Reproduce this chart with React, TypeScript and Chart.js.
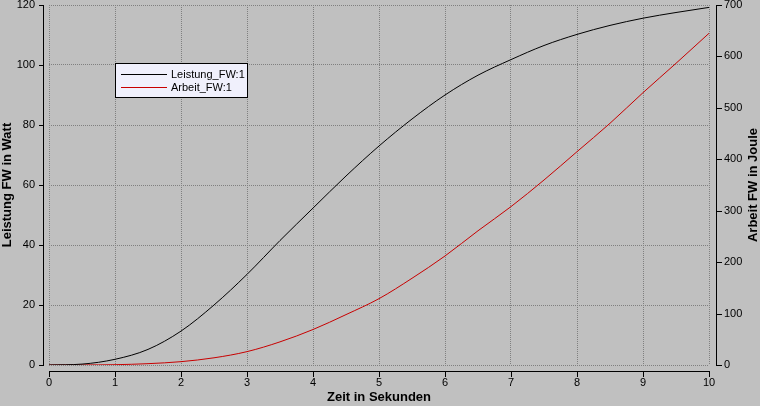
import React, { useEffect, useRef } from "react";
import { Chart, registerables } from "chart.js";

Chart.register(...registerables);

// ---- data ----
const timeSec = [0, 0.5, 1, 1.5, 2, 2.5, 3, 3.5, 4, 4.5, 5, 5.5, 6, 6.5, 7, 7.5, 8, 8.5, 9, 9.5, 10];
const leistungW = [0, 0.3, 1.9, 5.2, 11.3, 20, 30.2, 41.5, 52.3, 63, 73, 82, 90, 96.6, 101.8, 106.5, 110.2, 113.2, 115.6, 117.5, 119.2];
const arbeitJ = [0, 0.1, 0.6, 2.6, 6.5, 14, 26, 45, 69, 98, 129, 168.6, 212, 261, 308, 359.7, 414.8, 470, 529.5, 586.6, 645];

const seriesLabels = ["Leistung_FW:1", "Arbeit_FW:1"];
const seriesColors = ["#000000", "#c80000"];

const xTicksRange = [0, 10, 1];
const yLeftRange = [0, 120, 20];
const yRightRange = [0, 700, 100];

const xTitle = "Zeit in Sekunden";
const yLeftTitle = "Leistung FW in Watt";
const yRightTitle = "Arbeit FW in Joule";

const FONT = '"Liberation Sans", Arial, sans-serif';

const decorPlugin = {
  id: "decor",
  beforeDraw(chart: any) {
    const ctx = chart.ctx;
    ctx.save();
    ctx.fillStyle = "#c0c0c0";
    ctx.fillRect(0, 0, chart.width, chart.height);
    ctx.restore();
  },
  afterDraw(chart: any) {
    const { ctx, chartArea } = chart;
    const { left, right, top, bottom } = chartArea;
    const xs = chart.scales.x;
    const yl = chart.scales.y;
    const yr = chart.scales.y1;
    ctx.save();
    ctx.strokeStyle = "#000";
    ctx.lineWidth = 1;

    // left axis
    const lx = Math.round(left) - 6 + 0.5;
    ctx.beginPath();
    ctx.moveTo(lx, Math.round(top));
    ctx.lineTo(lx, Math.round(bottom) + 1);
    yl.ticks.forEach((t: any) => {
      const py = Math.round(yl.getPixelForValue(t.value)) + 0.5;
      ctx.moveTo(lx - 4.5, py);
      ctx.lineTo(lx + 0.5, py);
    });
    // right axis
    const rx = Math.round(right) + 7 + 0.5;
    ctx.moveTo(rx, Math.round(top));
    ctx.lineTo(rx, Math.round(bottom) + 1);
    yr.ticks.forEach((t: any) => {
      const py = Math.round(yr.getPixelForValue(t.value)) + 0.5;
      ctx.moveTo(rx - 0.5, py);
      ctx.lineTo(rx + 5.5, py);
    });
    // bottom axis
    const by = Math.round(bottom) + 6 + 0.5;
    ctx.moveTo(Math.round(left), by);
    ctx.lineTo(Math.round(right) + 1, by);
    xs.ticks.forEach((t: any) => {
      const px = Math.round(xs.getPixelForValue(t.value)) + 0.5;
      ctx.moveTo(px, by - 0.5);
      ctx.lineTo(px, by + 5.5);
    });
    ctx.stroke();

    // axis titles
    ctx.fillStyle = "#000";
    ctx.font = `bold 13px ${FONT}`;
    ctx.textAlign = "center";
    ctx.textBaseline = "middle";
    ctx.fillText(xTitle, (left + right) / 2, 397);
    const cy = (top + bottom) / 2;
    ctx.save();
    ctx.translate(7, cy);
    ctx.rotate(-Math.PI / 2);
    ctx.fillText(yLeftTitle, 0, 0);
    ctx.restore();
    ctx.save();
    ctx.translate(753, cy);
    ctx.rotate(-Math.PI / 2);
    ctx.fillText(yRightTitle, 0, 0);
    ctx.restore();

    // legend box
    const bx = 115.5, byy = 63.5, bw = 132, bh = 34;
    ctx.fillStyle = "#f0f0fc";
    ctx.fillRect(bx, byy, bw, bh);
    ctx.strokeStyle = "#000";
    ctx.strokeRect(bx, byy, bw, bh);
    ctx.font = `11px ${FONT}`;
    ctx.textAlign = "left";
    ctx.textBaseline = "middle";
    chart.data.datasets.forEach((ds: any, i: number) => {
      const ly = 74.5 + i * 13;
      ctx.strokeStyle = ds.borderColor;
      ctx.beginPath();
      ctx.moveTo(121, ly);
      ctx.lineTo(167, ly);
      ctx.stroke();
      ctx.fillStyle = "#000";
      ctx.fillText(ds.label, 171, ly);
    });
    ctx.restore();
  },
};

export default function App() {
  const ref = useRef<HTMLCanvasElement | null>(null);

  useEffect(() => {
    document.body.style.margin = "0";
    document.body.style.background = "#c0c0c0";
    const canvas = ref.current;
    if (!canvas) return;
    const tickFont = { family: FONT, size: 11 };
    const chart = new Chart(canvas, {
      type: "line",
      data: {
        datasets: [
          {
            label: seriesLabels[0],
            data: timeSec.map((t, i) => ({ x: t, y: leistungW[i] })),
            borderColor: seriesColors[0],
            borderWidth: 1,
            pointRadius: 0,
            cubicInterpolationMode: "monotone",
            yAxisID: "y",
          },
          {
            label: seriesLabels[1],
            data: timeSec.map((t, i) => ({ x: t, y: arbeitJ[i] })),
            borderColor: seriesColors[1],
            borderWidth: 1,
            pointRadius: 0,
            cubicInterpolationMode: "monotone",
            yAxisID: "y1",
          },
        ],
      },
      options: {
        animation: false,
        responsive: true,
        maintainAspectRatio: false,
        devicePixelRatio: 1,
        layout: { padding: { top: 5, left: 0, right: 0, bottom: 0 } },
        plugins: { legend: { display: false }, tooltip: { enabled: false } },
        scales: {
          x: {
            type: "linear",
            min: xTicksRange[0],
            max: xTicksRange[1],
            ticks: { stepSize: xTicksRange[2], color: "#000", font: tickFont, padding: 11, maxRotation: 0 },
            grid: { color: "#808080", drawTicks: false },
            border: { display: false, dash: [1, 1] },
            afterFit: (s: any) => {
              s.height = 41;
              s.paddingLeft = 0;
              s.paddingRight = 0;
            },
          },
          y: {
            type: "linear",
            position: "left",
            min: yLeftRange[0],
            max: yLeftRange[1],
            ticks: { stepSize: yLeftRange[2], color: "#000", font: tickFont, padding: 14 },
            grid: { color: "#808080", drawTicks: false },
            border: { display: false, dash: [1, 1] },
            afterFit: (s: any) => {
              s.width = 49;
              s.paddingTop = 0;
              s.paddingBottom = 0;
            },
          },
          y1: {
            type: "linear",
            position: "right",
            min: yRightRange[0],
            max: yRightRange[1],
            ticks: { stepSize: yRightRange[2], color: "#000", font: tickFont, padding: 15 },
            grid: { drawOnChartArea: false, drawTicks: false },
            border: { display: false },
            afterFit: (s: any) => {
              s.width = 51;
              s.paddingTop = 0;
              s.paddingBottom = 0;
            },
          },
        },
      },
      plugins: [decorPlugin],
    } as any);
    return () => chart.destroy();
  }, []);

  return (
    <div style={{ width: 760, height: 406, position: "relative" }}>
      <canvas ref={ref} />
    </div>
  );
}
